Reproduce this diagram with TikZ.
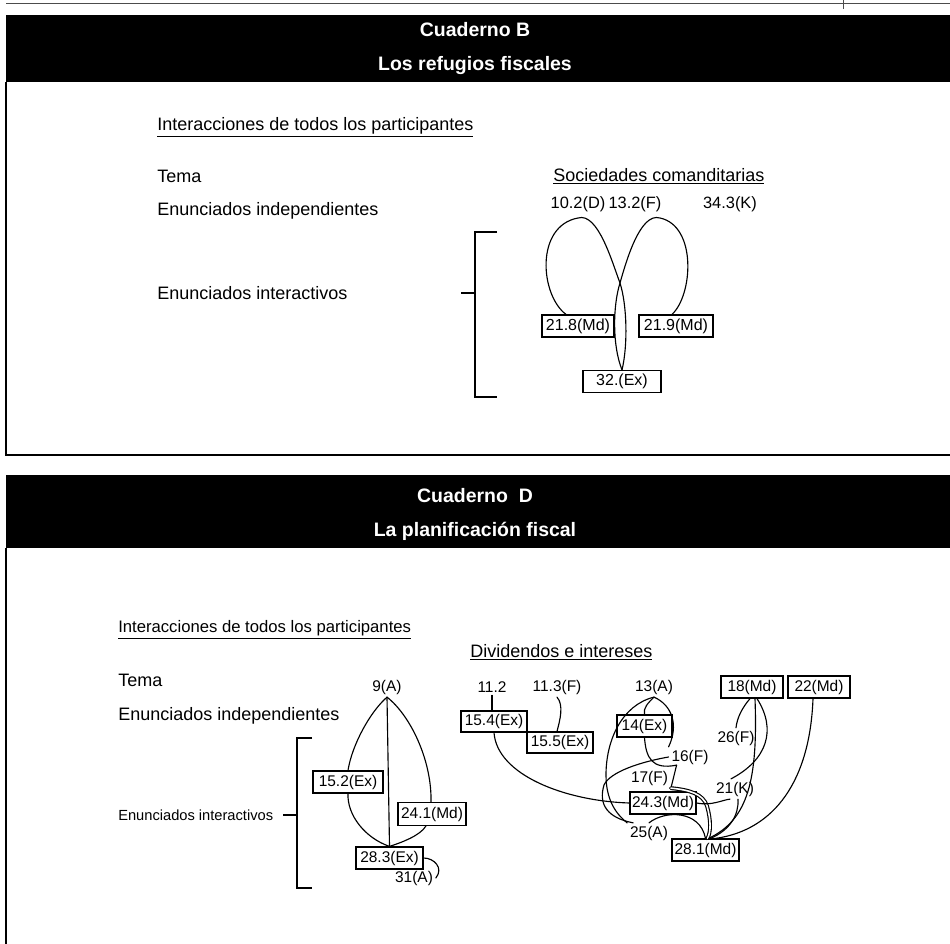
\documentclass[tikz,border=0pt]{standalone}
\usepackage{fontspec}
\setmainfont{Liberation Sans}
\usetikzlibrary{calc}
\begin{document}
\begin{tikzpicture}[x=0.75pt,y=-0.75pt,
  conn/.style={line width=0.85pt, line cap=round},
  frame/.style={line width=1.1pt},
  lbl/.style={anchor=west, inner sep=0pt, font=\fontsize{13.5}{16}\selectfont},
  num/.style={inner sep=2pt, font=\fontsize{11.6}{14}\selectfont},
  numB/.style={inner sep=2pt, font=\fontsize{12.3}{14}\selectfont},
  boxD/.style={draw, line width=0.9pt, inner sep=0pt, minimum height=16.5pt, font=\fontsize{11.6}{14}\selectfont},
  boxB/.style={draw, line width=0.9pt, inner sep=0pt, minimum width=54pt, minimum height=16.5pt, font=\fontsize{12}{14}\selectfont},
  ttl/.style={text=white, inner sep=0pt, font=\bfseries\fontsize{14.6}{17}\selectfont}
]
\useasboundingbox (0,0) rectangle (950,944);
% top rule and frames
\draw[line width=0.5pt, black!70] (6,3) -- (950,3);
\draw[line width=0.5pt, black!70] (843,0) -- (843,9);
\fill[black] (6,15) rectangle (950,82);
\fill[black] (6,475) rectangle (950,548);
\draw[frame] (6,82) -- (6,455) -- (950,455);
\draw[frame] (6,548) -- (6,944);
\node[ttl] (tB1) at (475,30) {Cuaderno B};
\node[ttl] (tB2) at (475,66) {Los refugios fiscales};
\node[ttl] (tD1) at (475,496) {Cuaderno\ \ D};
\node[ttl] (tD2) at (475,531) {La planificación fiscal};

% ---------- Cuaderno B ----------
\node[lbl] (nIntB) at (157,127) {\underline{Interacciones de todos los participantes}};
\node[lbl] (nTemaB) at (157,176) {Tema};
\node[lbl] (nIndB) at (157,211) {Enunciados independientes};
\node[lbl] (nInterB) at (157,293) {Enunciados interactivos};
\node[lbl] (nSoc) at (553,176) {\underline{Sociedades comanditarias}};
\node[numB] (n102) at (578,204) {10.2(D)};
\node[numB] (n132) at (635,204) {13.2(F)};
\node[numB] (n343) at (730,204) {34.3(K)};
\draw[frame] (497,232) -- (475,232) -- (475,397) -- (497,397);
\draw[frame] (461,293) -- (475,293);
\node[boxB] (b218) at (578,326) {21.8(Md)};
\node[boxB, minimum width=55.5pt] (b219) at (676,326) {21.9(Md)};
\node[boxB, minimum width=58.5pt] (b32) at (622,381.5) {32.(Ex)};
\draw[conn] ($(b218.north)+(-12,0)$) .. controls (540,295) and (535,226) .. (578,218)
   .. controls (598,212) and (612,262) .. (620,283)
   .. controls (627,305) and (628,345) .. (b32.north);
\draw[conn] ($(b219.north)+(-4,0)$) .. controls (693,295) and (697,226) .. (660,218)
   .. controls (640,212) and (626,262) .. (620,283)
   .. controls (613,305) and (612,345) .. (b32.north);

% ---------- Cuaderno D ----------
\node[lbl, font=\fontsize{12.5}{15}\selectfont] (nIntD) at (118,630) {\underline{Interacciones de todos los participantes}};
\node[lbl] (nDiv) at (470,652) {\underline{Dividendos e intereses}};
\node[lbl] (nTemaD) at (118,680) {Tema};
\node[lbl] (nIndD) at (118,716) {Enunciados independientes};
\node[lbl, font=\fontsize{11}{13}\selectfont] (nInterD) at (118,815) {Enunciados interactivos};
\draw[frame] (312,738) -- (297,738) -- (297,888) -- (312,888);
\draw[frame] (283,815) -- (297,815);

\node[num] (n9) at (387,687) {9(A)};
\node[num] (n112) at (492,687) {11.2};
\node[num] (n113) at (557,687) {11.3(F)};
\node[num] (n13) at (654,687) {13(A)};
\node[num] (n16) at (690,757) {16(F)};
\node[num] (n17) at (649.5,778) {17(F)};
\node[num] (n25) at (649,833) {25(A)};
\node[num] (n26) at (736,738) {26(F)};
\node[num] (n21) at (735,789) {21(K)};
\node[num] (n31) at (414,878) {31(A)};

\node[boxD, minimum width=52.5pt] (b152) at (348,782) {15.2(Ex)};
\node[boxD, minimum width=51pt, minimum height=17pt] (b241) at (432,814) {24.1(Md)};
\node[boxD, minimum width=50.25pt] (b283) at (389.5,858) {28.3(Ex)};
\node[boxD, minimum width=49.5pt, minimum height=15.75pt] (b154) at (494,721.5) {15.4(Ex)};
\node[boxD, minimum width=49.5pt, minimum height=15.75pt] (b155) at (560,742.5) {15.5(Ex)};
\node[boxD, minimum width=41.25pt] (b14) at (644.5,726) {14(Ex)};
\node[boxD, minimum width=49.5pt] (b243) at (663,803) {24.3(Md)};
\node[boxD, minimum width=50.25pt] (b281) at (705.5,850) {28.1(Md)};
\node[boxD, minimum width=46.5pt] (b18) at (752,687) {18(Md)};
\node[boxD, minimum width=46.5pt] (b22) at (819,687) {22(Md)};

% lens
\draw[conn] (n9.south) -- (b283.north);
\draw[conn] (n9.south) .. controls (370,712) and (352,745) .. (b152.north);
\draw[conn] (b152.south) .. controls (347,815) and (365,838) .. (b283.north);
\draw[conn] (n9.south) .. controls (410,715) and (432,760) .. ($(b241.north)+(-1,0)$);
\draw[conn] ($(b241.south)+(-6,0)$) .. controls (420,836) and (400,843) .. (b283.north);
\draw[conn] (b283.east) .. controls (434,858) and (444,868) .. (n31.east);

% right cluster
\coordinate (v16) at ($(n16.south west)+(8,-2)$);
\draw[conn] (n112.south) -- (n112.south |- b154.north);
\draw[conn] (n113.south) .. controls (564,705) and (560,720) .. ($(b155.north)+(-3,0)$);
\draw[conn] (b154.south) .. controls (497,775) and (565,801) .. (b243.west);
\draw[conn] (n13.south) .. controls (648,703) and (643,708) .. (b14.north);
\draw[conn] (n13.south) .. controls (672,705) and (679,725) .. (n16.north west);
\draw[conn] (n13.south) .. controls (622,705) and (606,740) .. (606,775)
   .. controls (606,800) and (616,814) .. (n25.north west);
\draw[conn] (b14.south) .. controls (646,758) and (652,770) .. (v16);
\draw[conn] (v16) -- (n17.south east);
\draw[conn] (n16.west) .. controls (640,762) and (610,772) .. (604,785)
   .. controls (598,805) and (608,818) .. ($(n25.north west)+(6,0)$);
\draw[conn, double, double distance=1.2pt] (n17.south east) .. controls (690,790) and (703,794) .. (707,806)
   .. controls (711,820) and (711,832) .. ($(b281.north)+(2,0)$);
\draw[conn] (b243.east) .. controls (712,806) and (722,800) .. ($(n21.south)+(-5,0)$);
\draw[conn] ($(n21.south)+(3,0)$) .. controls (739,815) and (730,830) .. ($(b281.north)+(5,0)$);
\draw[conn] ($(b18.south)+(-2,0)$) .. controls (742,708) and (737,718) .. (n26.north);
\draw[conn] ($(b18.south)+(3,0)$) .. controls (758,780) and (748,820) .. ($(b281.north)+(3,0)$);
\draw[conn] ($(b18.south)+(5,0)$) .. controls (777,730) and (767,760) .. ($(n21.north)+(-4,0)$);
\draw[conn] ($(b22.south)+(-6,0)$) .. controls (810,780) and (775,830) .. ($(b281.north)+(10,0)$);
\draw[conn] (n25.north) .. controls (665,810) and (700,810) .. (b281.north);
\end{tikzpicture}
\end{document}
